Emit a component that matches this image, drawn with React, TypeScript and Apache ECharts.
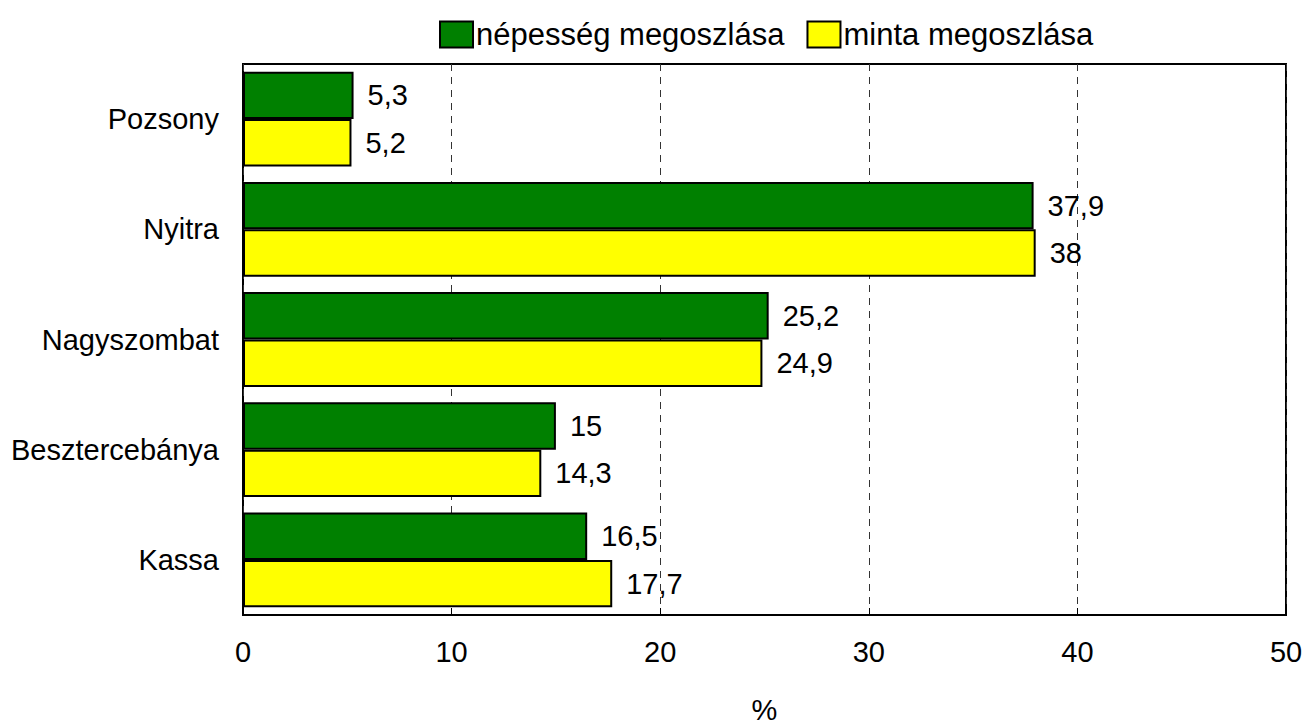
import React, { useEffect, useRef } from "react";
import * as echarts from "echarts";

const categories = ["Pozsony", "Nyitra", "Nagyszombat", "Besztercebánya", "Kassa"];
const nepesseg = [5.3, 37.9, 25.2, 15, 16.5];
const minta = [5.2, 38, 24.9, 14.3, 17.7];
const seriesNames = ["népesség megoszlása", "minta megoszlása"];

const FONT = "'Liberation Sans Narrow', 'Arial Narrow', 'Liberation Sans', Arial, sans-serif";

export default function App() {
  const ref = useRef<HTMLDivElement>(null);
  useEffect(() => {
    const chart = echarts.init(ref.current!, null, { renderer: "svg" });
    const fmt = (p: any) => String(p.value).replace(".", ",");
    chart.setOption({
      animation: false,
      textStyle: { fontFamily: FONT },
      legend: {
        left: 434,
        top: 14,
        icon: "rect",
        itemWidth: 33,
        itemHeight: 26,
        itemGap: 22,
        textStyle: { fontSize: 31, color: "#000", fontFamily: FONT, padding: [0, 0, 0, -2] },
        data: seriesNames,
      },
      grid: {
        left: 243,
        right: 19,
        top: 64,
        bottom: 112,
        outerBoundsMode: "none",
        containLabel: false,
        show: true,
        borderColor: "#000",
        borderWidth: 2,
        backgroundColor: "#fff",
      },
      xAxis: {
        type: "value",
        min: 0,
        max: 50,
        interval: 10,
        name: "%",
        nameLocation: "middle",
        nameGap: 80,
        nameTextStyle: { fontSize: 29, color: "#000", fontFamily: FONT },
        axisLine: { show: false },
        axisTick: { show: true, inside: true, length: 7, lineStyle: { color: "#000" } },
        axisLabel: { fontSize: 29, color: "#000", margin: 22, fontFamily: FONT },
        splitLine: { show: true, lineStyle: { color: "#333", type: [7, 6], width: 1 } },
      },
      yAxis: {
        type: "category",
        data: categories,
        inverse: true,
        axisLine: { show: false },
        axisTick: { show: false },
        axisLabel: { fontSize: 29, color: "#000", margin: 24, fontFamily: FONT },
      },
      series: [
        {
          name: seriesNames[0],
          type: "bar",
          data: nepesseg,
          barGap: "0%",
          barCategoryGap: "14%",
          itemStyle: { color: "#008000", borderColor: "#000", borderWidth: 2 },
          label: { show: true, position: "right", distance: 14, fontSize: 29, color: "#000", formatter: fmt, fontFamily: FONT },
        },
        {
          name: seriesNames[1],
          type: "bar",
          data: minta,
          itemStyle: { color: "#ffff00", borderColor: "#000", borderWidth: 2 },
          label: { show: true, position: "right", distance: 14, fontSize: 29, color: "#000", formatter: fmt, fontFamily: FONT },
        },
      ],
    });
    return () => chart.dispose();
  }, []);
  return (
    <div
      ref={ref}
      style={{ position: "absolute", left: 0, top: 0, width: 1305, height: 727, background: "#fff" }}
    />
  );
}
